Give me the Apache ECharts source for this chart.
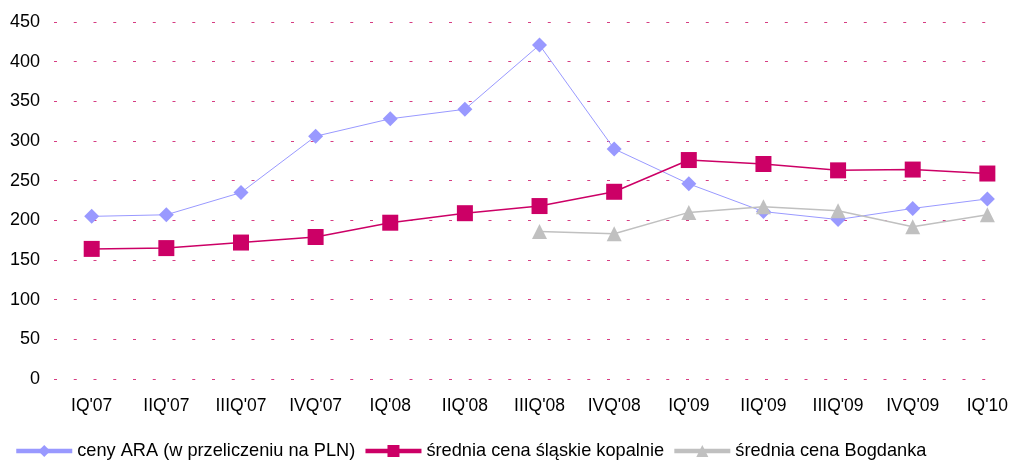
<!DOCTYPE html>
<html><head><meta charset="utf-8">
<script src="https://cdn.jsdelivr.net/npm/echarts@6/dist/echarts.min.js"></script>
<style>html,body{margin:0;padding:0;background:#fff}#c{width:1011px;height:460px}</style>
</head><body><div id="c"></div>
<script>
const categories = ["IQ'07","IIQ'07","IIIQ'07","IVQ'07","IQ'08","IIQ'08","IIIQ'08","IVQ'08","IQ'09","IIQ'09","IIIQ'09","IVQ'09","IQ'10"];
const araValues = [205, 207, 235, 306, 328, 340, 421, 290, 246, 211, 201, 215, 227];
const slaskValues = [164, 165, 172, 179, 197, 209, 218, 236, 276, 271, 263, 264, 259];
const bogdankaValues = [null, null, null, null, null, null, 186, 183, 210, 217, 212, 192, 207];
const seriesNames = ["ceny ARA (w przeliczeniu na PLN)", "średnia cena śląskie kopalnie", "średnia cena Bogdanka"];
const yTicks = {min: 0, max: 450, interval: 50};

const FONT = 'Liberation Sans, Arial, sans-serif';
const chart = echarts.init(document.getElementById('c'));
chart.setOption({
  animation: false,
  textStyle: {fontFamily: FONT},
  grid: [
    {left: 54, right: 14, top: 22, height: 357},
    {left: 91.7, right: 23.5, top: 22, height: 357}
  ],
  legend: {
    left: 9, top: 437, itemWidth: 56, itemHeight: 15, itemGap: 8,
    textStyle: {fontSize: 18.2, color: '#000', fontFamily: FONT},
    lineStyle: {width: 4.5},
    data: seriesNames
  },
  xAxis: [
    {gridIndex: 0, type: 'value', min: 0, max: 1, show: false},
    {gridIndex: 1, type: 'category', data: categories, boundaryGap: false,
     axisLine: {show: false}, axisTick: {show: false}, splitLine: {show: false},
     axisLabel: {fontSize: 17.5, color: '#000', margin: 18, interval: 0, fontFamily: FONT}}
  ],
  yAxis: [
    {gridIndex: 0, type: 'value', min: yTicks.min, max: yTicks.max, interval: yTicks.interval,
     axisLine: {show: false}, axisTick: {show: false},
     axisLabel: {fontSize: 18, color: '#000', margin: 14, fontFamily: FONT},
     splitLine: {lineStyle: {color: '#D63C82', width: 1, type: [3, 16.75]}}},
    {gridIndex: 1, type: 'value', min: yTicks.min, max: yTicks.max, interval: yTicks.interval,
     show: false, splitLine: {show: false}}
  ],
  series: [
    {name: seriesNames[0], type: 'line', xAxisIndex: 1, yAxisIndex: 1, data: araValues, symbol: 'diamond', symbolSize: 15,
     itemStyle: {color: '#9999FF'}, lineStyle: {color: '#9999FF', width: 1}, z: 2},
    {name: seriesNames[1], type: 'line', xAxisIndex: 1, yAxisIndex: 1, data: slaskValues, symbol: 'rect', symbolSize: 16,
     itemStyle: {color: '#CC0066'}, lineStyle: {color: '#CC0066', width: 1.5}, z: 3},
    {name: seriesNames[2], type: 'line', xAxisIndex: 1, yAxisIndex: 1, data: bogdankaValues, symbol: 'triangle', symbolSize: 15,
     itemStyle: {color: '#C0C0C0'}, lineStyle: {color: '#C0C0C0', width: 1.5}, z: 4}
  ]
});
</script></body></html>
